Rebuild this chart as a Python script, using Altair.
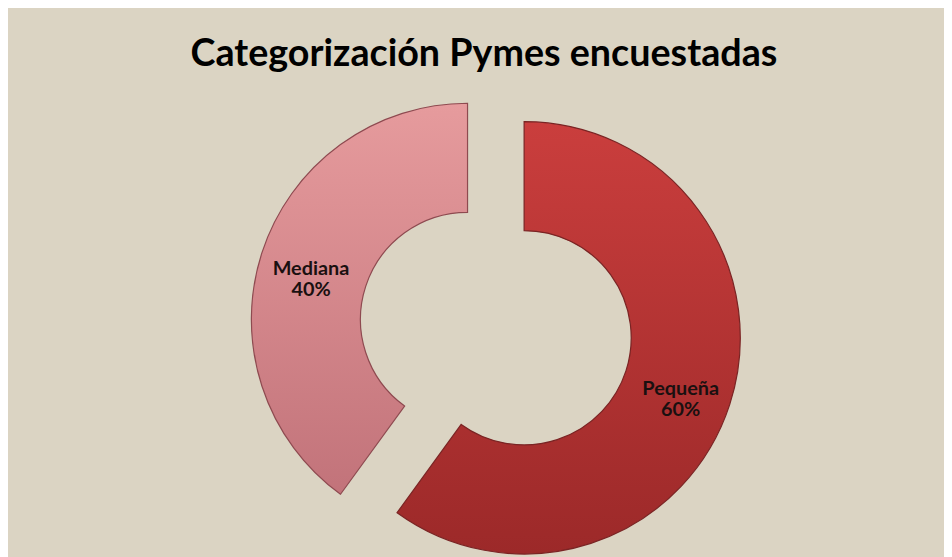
import altair as alt
import pandas as pd

categories = ["Pequeña", "Mediana"]
values = [60, 40]
order = [0, 1]

TITLE = "Categorización Pymes encuestadas"
BG = "#DBD4C3"
CX, CY = 492, 247
EXPLODE = 30
R_IN, R_OUT = 108, 218

df = pd.DataFrame({"cat": categories, "value": values, "order": order})

base = (
    alt.Chart(df)
    .transform_window(cum="sum(value)", sort=[alt.SortField("order")], frame=[None, 0])
    .transform_joinaggregate(total="sum(value)")
    .transform_calculate(
        start="(datum.cum - datum.value) / datum.total * 2 * PI",
        end="datum.cum / datum.total * 2 * PI",
    )
    .transform_calculate(mid="(datum.start + datum.end) / 2")
    .transform_calculate(
        cx=f"{CX} + {EXPLODE} * sin(datum.mid)",
        cy=f"{CY} - {EXPLODE} * cos(datum.mid)",
        label="datum.cat + '\\n' + datum.value + '%'",
    )
)

enc = dict(
    theta=alt.Theta("start:Q", scale=None),
    theta2="end:Q",
    x=alt.X("cx:Q", scale=None),
    y=alt.Y("cy:Q", scale=None),
)


def grad(top, bottom):
    return alt.Gradient(
        gradient="linear",
        stops=[alt.GradientStop(color=top, offset=0), alt.GradientStop(color=bottom, offset=1)],
        x1=0, x2=0, y1=0, y2=1,
    )


peq = base.transform_filter("datum.cat == 'Pequeña'").mark_arc(
    innerRadius=R_IN, outerRadius=R_OUT, fill=grad("#CA3E3D", "#9C2929"),
    stroke="#7A2424", strokeWidth=1.2,
).encode(**enc)

med = base.transform_filter("datum.cat == 'Mediana'").mark_arc(
    innerRadius=R_IN, outerRadius=R_OUT, fill=grad("#E69B9D", "#C2737A"),
    stroke="#8E4A50", strokeWidth=1.2,
).encode(**enc)

labels = base.mark_text(
    radius=(R_IN + R_OUT) / 2 + 3, lineBreak="\n", lineHeight=22,
    fontSize=20, fontWeight="bold", font="Lato", color="#1A1010",
).encode(
    theta=alt.Theta("mid:Q", scale=None),
    x=alt.X("cx:Q", scale=None),
    y=alt.Y("cy:Q", scale=None),
    text="label:N",
)

chart = (
    alt.layer(med, peq, labels)
    .properties(
        width=944, height=549,
        autosize=alt.AutoSizeParams(type="fit", contains="padding"),
        padding={"top": 26, "left": 0, "right": 0, "bottom": 0},
        background=BG,
        title=alt.TitleParams(TITLE, font="Lato", fontSize=38, fontWeight="bold",
                              color="#000000", anchor="middle", offset=10, dx=8),
    )
    .configure_view(stroke=None)
)

chart.save("out.html", embed_options={"renderer": "svg", "actions": False})
